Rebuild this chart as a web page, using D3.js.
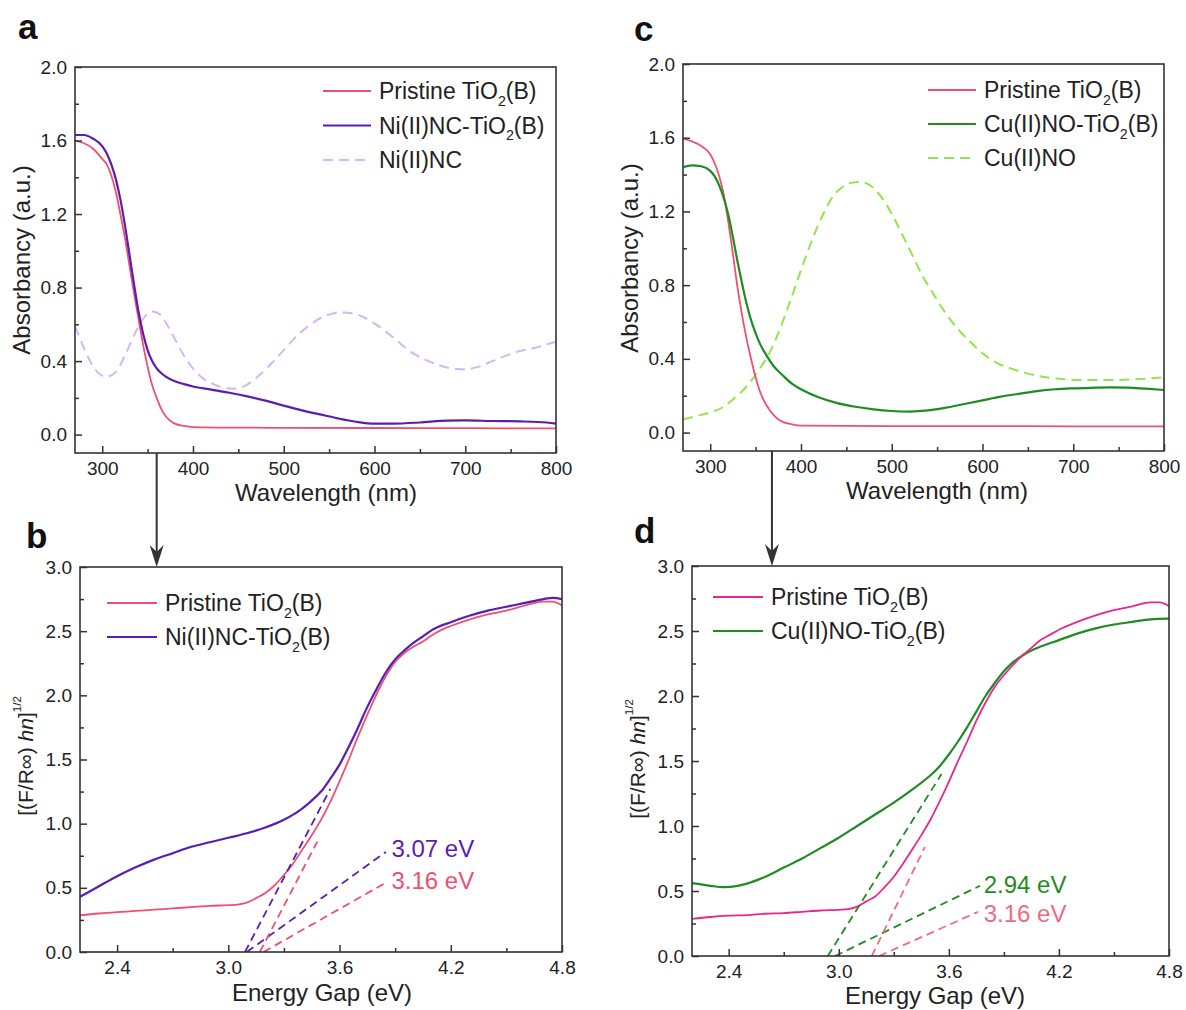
<!DOCTYPE html>
<html><head><meta charset="utf-8">
<script src="https://cdn.jsdelivr.net/npm/d3@7/dist/d3.min.js"></script>
<style>body{margin:0;background:#fff}svg{display:block}text{font-family:"Liberation Sans",Arial,sans-serif}</style>
</head><body>
<svg id="chart" width="1186" height="1010"></svg>
<script>
// ---------- DATA ----------
const wlTicks = [300, 400, 500, 600, 700, 800];
const absTicks = [0.0, 0.4, 0.8, 1.2, 1.6, 2.0];
const egTicks = [2.4, 3.0, 3.6, 4.2, 4.8];
const kmTicks = [0.0, 0.5, 1.0, 1.5, 2.0, 2.5, 3.0];

// panel a (wavelength nm, absorbancy)
const aPristine = [[270,1.60],[280,1.585],[290,1.555],[300,1.50],[305,1.47],[310,1.41],[315,1.32],[320,1.20],[325,1.07],[330,0.92],[335,0.77],[340,0.63],[345,0.49],[350,0.37],[355,0.27],[360,0.20],[365,0.14],[370,0.10],[375,0.075],[380,0.06],[390,0.047],[400,0.041],[450,0.038],[500,0.037],[600,0.036],[700,0.035],[800,0.034]];
const aNiTiO2 = [[270,1.63],[280,1.63],[290,1.61],[300,1.57],[305,1.53],[310,1.47],[315,1.39],[320,1.28],[325,1.14],[330,0.98],[335,0.82],[340,0.67],[345,0.55],[350,0.46],[355,0.40],[360,0.36],[365,0.335],[370,0.315],[380,0.29],[390,0.275],[400,0.262],[420,0.245],[440,0.228],[460,0.208],[480,0.185],[500,0.158],[520,0.132],[540,0.11],[560,0.088],[580,0.07],[600,0.06],[620,0.06],[650,0.066],[680,0.076],[700,0.077],[730,0.074],[760,0.072],[790,0.066],[800,0.06]];
const aNiNC = [[270,0.59],[280,0.47],[290,0.37],[300,0.32],[305,0.315],[315,0.34],[325,0.43],[335,0.54],[345,0.63],[355,0.67],[362,0.66],[370,0.61],[380,0.52],[390,0.43],[400,0.36],[410,0.31],[420,0.28],[435,0.255],[445,0.25],[455,0.26],[470,0.31],[485,0.38],[500,0.46],[515,0.54],[530,0.60],[545,0.645],[565,0.665],[580,0.655],[595,0.62],[610,0.57],[625,0.51],[640,0.45],[655,0.41],[670,0.38],[685,0.36],[700,0.355],[715,0.37],[730,0.40],[745,0.43],[760,0.455],[775,0.47],[790,0.49],[800,0.505]];

// panel c
const cPristine = [[270,1.595],[280,1.58],[290,1.555],[300,1.51],[305,1.46],[310,1.39],[315,1.29],[320,1.14],[325,0.97],[330,0.79],[335,0.64],[340,0.51],[345,0.40],[350,0.30],[355,0.22],[360,0.165],[365,0.125],[370,0.095],[375,0.072],[380,0.058],[390,0.045],[400,0.038],[450,0.036],[500,0.035],[600,0.035],[700,0.034],[800,0.034]];
const cCuTiO2 = [[270,1.44],[280,1.45],[290,1.445],[300,1.42],[305,1.39],[310,1.34],[315,1.27],[320,1.18],[325,1.06],[330,0.93],[335,0.81],[340,0.70],[345,0.61],[350,0.54],[355,0.48],[360,0.435],[370,0.36],[380,0.31],[390,0.265],[400,0.235],[420,0.19],[440,0.16],[460,0.14],[480,0.126],[500,0.117],[520,0.114],[540,0.12],[560,0.135],[580,0.155],[600,0.175],[620,0.195],[640,0.21],[660,0.225],[680,0.235],[700,0.24],[720,0.243],[740,0.245],[760,0.244],[780,0.238],[800,0.231]];
const cCuNO = [[270,0.072],[285,0.09],[300,0.11],[315,0.14],[325,0.18],[340,0.25],[355,0.35],[365,0.43],[375,0.54],[385,0.67],[395,0.81],[405,0.95],[415,1.08],[425,1.19],[435,1.28],[445,1.33],[455,1.355],[465,1.36],[475,1.345],[485,1.30],[495,1.23],[505,1.14],[515,1.04],[525,0.94],[535,0.84],[545,0.76],[555,0.68],[565,0.61],[575,0.55],[585,0.50],[600,0.43],[615,0.38],[630,0.35],[650,0.32],[670,0.30],[690,0.29],[710,0.285],[740,0.285],[770,0.29],[800,0.30]];

// panel b (energy eV, [(F/R)hv]^1/2)
const bPristine = [[2.2,0.285],[2.3,0.30],[2.4,0.31],[2.5,0.32],[2.6,0.33],[2.7,0.34],[2.8,0.35],[2.9,0.36],[3.0,0.365],[3.05,0.37],[3.1,0.385],[3.15,0.42],[3.2,0.46],[3.25,0.52],[3.3,0.60],[3.35,0.69],[3.4,0.80],[3.45,0.91],[3.5,1.03],[3.55,1.17],[3.6,1.33],[3.65,1.50],[3.7,1.68],[3.75,1.85],[3.8,2.01],[3.85,2.15],[3.9,2.26],[3.95,2.33],[4.0,2.38],[4.05,2.42],[4.1,2.47],[4.15,2.51],[4.2,2.54],[4.3,2.59],[4.4,2.63],[4.5,2.66],[4.6,2.70],[4.7,2.73],[4.75,2.73],[4.8,2.70]];
const bNiTiO2 = [[2.2,0.43],[2.3,0.51],[2.4,0.59],[2.5,0.66],[2.6,0.72],[2.7,0.77],[2.8,0.82],[2.9,0.855],[3.0,0.89],[3.1,0.925],[3.2,0.97],[3.3,1.03],[3.35,1.07],[3.4,1.12],[3.45,1.18],[3.5,1.25],[3.55,1.35],[3.6,1.46],[3.65,1.60],[3.7,1.75],[3.75,1.91],[3.8,2.05],[3.85,2.18],[3.9,2.28],[3.95,2.35],[4.0,2.41],[4.05,2.46],[4.1,2.51],[4.2,2.57],[4.3,2.62],[4.4,2.66],[4.5,2.69],[4.6,2.72],[4.7,2.75],[4.75,2.76],[4.8,2.75]];
const bTangentNi = [[3.09,0],[3.55,1.27]];
const bBaseNi = [[3.10,0],[3.85,0.78]];
const bTangentP = [[3.17,0],[3.48,0.86]];
const bBaseP = [[3.19,0],[3.85,0.54]];
const bGapLabels = ["3.07 eV", "3.16 eV"];
const bGapLabelPos = [[3.88,0.81],[3.88,0.56]];

// panel d
const dPristine = [[2.2,0.285],[2.3,0.30],[2.4,0.31],[2.5,0.315],[2.6,0.325],[2.7,0.33],[2.8,0.34],[2.9,0.35],[3.0,0.355],[3.05,0.36],[3.1,0.38],[3.15,0.42],[3.2,0.46],[3.25,0.53],[3.3,0.61],[3.35,0.71],[3.4,0.82],[3.45,0.93],[3.5,1.05],[3.55,1.19],[3.6,1.34],[3.65,1.50],[3.7,1.65],[3.75,1.81],[3.8,1.95],[3.85,2.07],[3.9,2.16],[3.95,2.24],[4.0,2.31],[4.05,2.37],[4.1,2.43],[4.15,2.47],[4.2,2.51],[4.3,2.57],[4.4,2.62],[4.5,2.66],[4.6,2.69],[4.7,2.72],[4.75,2.72],[4.8,2.69]];
const dCuTiO2 = [[2.2,0.56],[2.3,0.54],[2.37,0.53],[2.45,0.54],[2.5,0.557],[2.6,0.61],[2.7,0.68],[2.8,0.75],[2.9,0.83],[3.0,0.91],[3.1,1.00],[3.2,1.09],[3.3,1.18],[3.4,1.28],[3.5,1.39],[3.55,1.46],[3.6,1.55],[3.65,1.65],[3.7,1.76],[3.75,1.88],[3.8,2.00],[3.85,2.10],[3.9,2.19],[3.95,2.26],[4.0,2.31],[4.05,2.35],[4.1,2.38],[4.2,2.43],[4.3,2.48],[4.4,2.52],[4.5,2.55],[4.6,2.57],[4.7,2.59],[4.8,2.595]];
const dTangentCu = [[2.94,0],[3.56,1.40]];
const dBaseCu = [[2.98,0],[3.77,0.54]];
const dTangentP = [[3.18,0],[3.47,0.84]];
const dBaseP = [[3.22,0],[3.76,0.34]];
const dGapLabels = ["2.94 eV", "3.16 eV"];
const dGapLabelPos = [[3.79,0.55],[3.79,0.33]];

const arrowWavelength = [360, 368];
const panelLetters = ["a", "b", "c", "d"];

// ---------- DRAWING ----------
const svg = d3.select("#chart");
const AX = "#333";
const C = {
  pink: "#ef506f", purple: "#5a1db3", lilac: "#d6b6f2",
  green: "#1f8c23", lime: "#92e64c", magenta: "#e9278a", lightpink: "#f06a86"
};
const FONT_TICK = 19, FONT_TITLE = 24, FONT_LEG = 23;

function richText(sel, parts, baseSize) {
  parts.forEach(p => {
    const t = sel.append("tspan").text(p.t);
    if (p.sub) t.attr("font-size", baseSize * 0.62).attr("dy", baseSize * 0.3);
    if (p.after) t.attr("dy", -baseSize * 0.3);
    if (p.it) t.attr("font-style", "italic");
    if (p.sup) t.attr("font-size", baseSize * 0.55).attr("dy", -baseSize * 0.55);
  });
}
const sub2 = (a, b) => [{t: a}, {t: "2", sub: true}, {t: b, after: true}];

function panel(cfg) {
  const g = svg.append("g");
  const x = d3.scaleLinear().domain(cfg.xDomain).range([cfg.left, cfg.right]);
  const y = d3.scaleLinear().domain(cfg.yDomain).range([cfg.bottom, cfg.top]);
  const line = d3.line().x(d => x(d[0])).y(d => y(d[1])).curve(d3.curveMonotoneX);

  const cid = "clip" + cfg.id;
  svg.append("clipPath").attr("id", cid).append("rect")
    .attr("x", cfg.left).attr("y", cfg.top).attr("width", cfg.right - cfg.left).attr("height", cfg.bottom - cfg.top);
  const plot = g.append("g").attr("clip-path", `url(#${cid})`);

  cfg.series.forEach(s => {
    plot.append("path").datum(s.data).attr("d", line).attr("fill", "none")
      .attr("stroke", s.color).attr("stroke-width", s.width || 2)
      .attr("stroke-dasharray", s.dash || null);
  });
  (cfg.segments || []).forEach(s => {
    plot.append("path").datum(s.data).attr("d", d3.line().x(d => x(d[0])).y(d => y(d[1])))
      .attr("fill", "none").attr("stroke", s.color).attr("stroke-width", 1.8)
      .attr("stroke-dasharray", "8,5");
  });
  (cfg.labels || []).forEach(l => {
    g.append("text").attr("x", x(l.pos[0])).attr("y", y(l.pos[1]))
      .attr("dominant-baseline", "central").attr("font-size", 24).attr("fill", l.color).text(l.text);
  });

  const xa = g.append("g").attr("transform", `translate(0,${cfg.bottom})`)
    .call(d3.axisBottom(x).tickValues(cfg.xTicks).tickSize(-7).tickPadding(9).tickFormat(cfg.xFmt));
  const xm = g.append("g").attr("transform", `translate(0,${cfg.bottom})`)
    .call(d3.axisBottom(x).tickValues(cfg.xMinor).tickSize(-4).tickFormat(""));
  const ya = g.append("g").attr("transform", `translate(${cfg.left},0)`)
    .call(d3.axisLeft(y).tickValues(cfg.yTicks).tickSize(-7).tickPadding(8).tickFormat(d3.format(".1f")));
  const ym = g.append("g").attr("transform", `translate(${cfg.left},0)`)
    .call(d3.axisLeft(y).tickValues(cfg.yMinor).tickSize(-4).tickFormat(""));
  [xa, xm, ya, ym].forEach(a => {
    a.select(".domain").remove();
    a.selectAll("line").attr("stroke", AX).attr("stroke-width", 1.5);
    a.selectAll("text").attr("font-size", FONT_TICK).attr("fill", "#222")
      .attr("font-family", '"Liberation Sans",Arial,sans-serif');
  });
  g.append("rect").attr("x", cfg.left).attr("y", cfg.top)
    .attr("width", cfg.right - cfg.left).attr("height", cfg.bottom - cfg.top)
    .attr("fill", "none").attr("stroke", AX).attr("stroke-width", 1.6);

  const xt = g.append("text").attr("x", cfg.xTitlePos[0]).attr("y", cfg.xTitlePos[1])
    .attr("text-anchor", "middle").attr("font-size", FONT_TITLE).attr("fill", "#222");
  richText(xt, cfg.xTitle, FONT_TITLE);
  const yt = g.append("text")
    .attr("transform", `translate(${cfg.yTitlePos[0]},${cfg.yTitlePos[1]}) rotate(-90)`)
    .attr("text-anchor", "middle").attr("font-size", cfg.yTitleSize || FONT_TITLE).attr("fill", "#222");
  richText(yt, cfg.yTitle, cfg.yTitleSize || FONT_TITLE);

  cfg.legend.items.forEach((it, i) => {
    const ly = cfg.legend.y + i * cfg.legend.dy;
    g.append("line").attr("x1", cfg.legend.x).attr("x2", cfg.legend.x + cfg.legend.len)
      .attr("y1", ly).attr("y2", ly).attr("stroke", it.color).attr("stroke-width", 2)
      .attr("stroke-dasharray", it.dash || null);
    const t = g.append("text").attr("x", cfg.legend.x + cfg.legend.len + 8).attr("y", ly + 8)
      .attr("font-size", FONT_LEG).attr("fill", "#222");
    richText(t, it.label, FONT_LEG);
  });

  svg.append("text").attr("x", cfg.letterPos[0]).attr("y", cfg.letterPos[1])
    .attr("font-size", 35).attr("font-weight", "bold").attr("fill", "#111")
    .style("font-family", '"Liberation Sans",Arial,sans-serif').text(cfg.letter);
  return {x, y};
}

const wlMinor = d3.range(350, 800, 100);
const absMinor = d3.range(0.2, 2.0, 0.4);
const egMinor = [2.7, 3.3, 3.9, 4.5];
const kmMinor = [0.25, 0.75, 1.25, 1.75, 2.25, 2.75];
const wlTitle = [{t: "Wavelength (nm)"}];
const absTitle = [{t: "Absorbancy (a.u.)"}];
const egTitle = [{t: "Energy Gap (eV)"}];
const kmTitle = [{t: "[(F/R\u221E) "}, {t: "hn", it: true}, {t: "]"}, {t: "1/2", sup: true}];

const pa = panel({
  id: "a", letter: panelLetters[0], letterPos: [18, 39],
  left: 75, right: 556, top: 67, bottom: 453,
  xDomain: [270, 800], yDomain: [-0.1, 2.0],
  xTicks: wlTicks, xMinor: wlMinor, yTicks: absTicks, yMinor: absMinor, xFmt: d3.format("d"),
  series: [
    {data: aNiNC, color: C.lilac, dash: "10,6", width: 2},
    {data: aPristine, color: C.pink, width: 1.8},
    {data: aNiTiO2, color: C.purple, width: 2.2}
  ],
  xTitle: wlTitle, xTitlePos: [326, 501], yTitle: absTitle, yTitlePos: [30, 260],
  legend: {x: 323, len: 48, y: 91, dy: 34.5, items: [
    {color: C.pink, label: sub2("Pristine TiO", "(B)")},
    {color: C.purple, label: sub2("Ni(II)NC-TiO", "(B)")},
    {color: C.lilac, dash: "10,6", label: [{t: "Ni(II)NC"}]}
  ]}
});

const pc = panel({
  id: "c", letter: panelLetters[2], letterPos: [634, 41],
  left: 683, right: 1164, top: 64, bottom: 451,
  xDomain: [270, 800], yDomain: [-0.1, 2.0],
  xTicks: wlTicks, xMinor: wlMinor, yTicks: absTicks, yMinor: absMinor, xFmt: d3.format("d"),
  series: [
    {data: cCuNO, color: C.lime, dash: "10,6", width: 2},
    {data: cPristine, color: C.pink, width: 1.8},
    {data: cCuTiO2, color: C.green, width: 2.2}
  ],
  xTitle: wlTitle, xTitlePos: [937, 499], yTitle: absTitle, yTitlePos: [638, 258],
  legend: {x: 928, len: 48, y: 90, dy: 34, items: [
    {color: C.pink, label: sub2("Pristine TiO", "(B)")},
    {color: C.green, label: sub2("Cu(II)NO-TiO", "(B)")},
    {color: C.lime, dash: "10,6", label: [{t: "Cu(II)NO"}]}
  ]}
});

const pb = panel({
  id: "b", letter: panelLetters[1], letterPos: [26, 548],
  left: 80, right: 562, top: 567, bottom: 952,
  xDomain: [2.2, 4.8], yDomain: [0, 3],
  xTicks: egTicks, xMinor: egMinor, yTicks: kmTicks, yMinor: kmMinor, xFmt: d3.format(".1f"),
  series: [
    {data: bPristine, color: C.pink, width: 1.8},
    {data: bNiTiO2, color: C.purple, width: 2.2}
  ],
  segments: [
    {data: bTangentNi, color: C.purple}, {data: bBaseNi, color: C.purple},
    {data: bTangentP, color: C.pink}, {data: bBaseP, color: C.pink}
  ],
  labels: [
    {text: bGapLabels[0], pos: bGapLabelPos[0], color: C.purple},
    {text: bGapLabels[1], pos: bGapLabelPos[1], color: C.pink}
  ],
  xTitle: egTitle, xTitlePos: [322, 1001], yTitle: kmTitle, yTitlePos: [33, 756], yTitleSize: 21,
  legend: {x: 107, len: 50, y: 603, dy: 34, items: [
    {color: C.pink, label: sub2("Pristine TiO", "(B)")},
    {color: C.purple, label: sub2("Ni(II)NC-TiO", "(B)")}
  ]}
});

const pd = panel({
  id: "d", letter: panelLetters[3], letterPos: [634, 543],
  left: 692, right: 1169, top: 566, bottom: 956,
  xDomain: [2.2, 4.8], yDomain: [0, 3],
  xTicks: egTicks, xMinor: egMinor, yTicks: kmTicks, yMinor: kmMinor, xFmt: d3.format(".1f"),
  series: [
    {data: dCuTiO2, color: C.green, width: 2.2},
    {data: dPristine, color: C.magenta, width: 1.8}
  ],
  segments: [
    {data: dTangentCu, color: C.green}, {data: dBaseCu, color: C.green},
    {data: dTangentP, color: C.lightpink}, {data: dBaseP, color: C.lightpink}
  ],
  labels: [
    {text: dGapLabels[0], pos: dGapLabelPos[0], color: C.green},
    {text: dGapLabels[1], pos: dGapLabelPos[1], color: C.lightpink}
  ],
  xTitle: egTitle, xTitlePos: [935, 1004], yTitle: kmTitle, yTitlePos: [645, 759], yTitleSize: 21,
  legend: {x: 713, len: 50, y: 597, dy: 34, items: [
    {color: C.magenta, label: sub2("Pristine TiO", "(B)")},
    {color: C.green, label: sub2("Cu(II)NO-TiO", "(B)")}
  ]}
});

function arrow(xs, y1, y2) {
  svg.append("line").attr("x1", xs).attr("x2", xs).attr("y1", y1).attr("y2", y2 - 4)
    .attr("stroke", AX).attr("stroke-width", 2);
  svg.append("path")
    .attr("d", `M${xs},${y2} L${xs - 7},${y2 - 22} L${xs},${y2 - 15} L${xs + 7},${y2 - 22} Z`)
    .attr("fill", AX);
}
arrow(pa.x(arrowWavelength[0]), 453, 567);
arrow(pc.x(arrowWavelength[1]), 451, 566);
</script>
</body></html>
